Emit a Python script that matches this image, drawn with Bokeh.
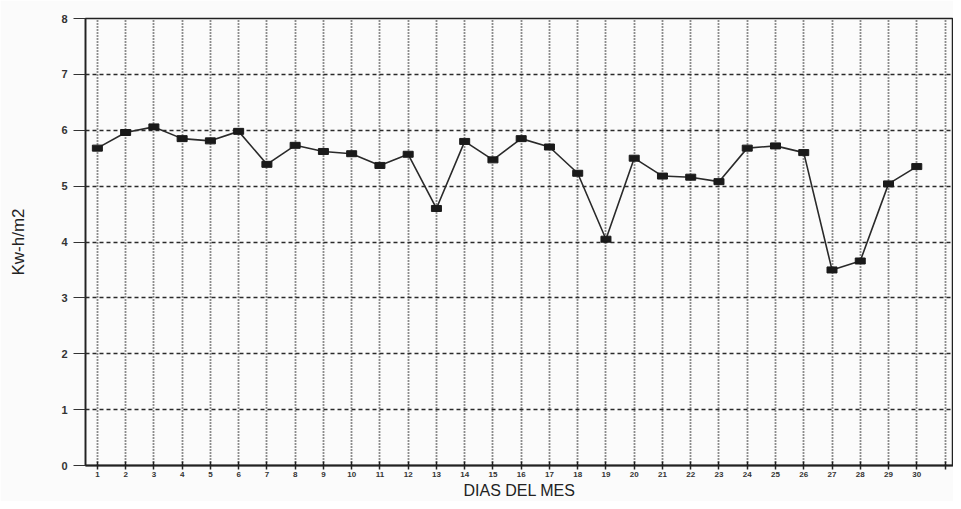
from bokeh.plotting import figure
from bokeh.models import Range1d, FixedTicker, ColumnDataSource
from bokeh.embed import file_html
from bokeh.resources import INLINE

days = list(range(1, 31))
kwh = [5.68, 5.96, 6.06, 5.85, 5.81, 5.98, 5.39, 5.73, 5.62, 5.58,
       5.37, 5.57, 4.60, 5.80, 5.47, 5.85, 5.70, 5.23, 4.05, 5.50,
       5.18, 5.16, 5.08, 5.68, 5.72, 5.60, 3.50, 3.66, 5.04, 5.35]
y_ticks = [0, 1, 2, 3, 4, 5, 6, 7, 8]
x_ticks = list(range(1, 32))
x_tick_labels = {d: str(d) for d in days}
x_tick_labels[31] = ""
x_title = "DIAS DEL MES"
y_title = "Kw-h/m2"

src = ColumnDataSource(data=dict(x=days, y=kwh))

p = figure(width=953, height=501, output_backend="svg", toolbar_location=None,
           x_range=Range1d(0.58, 31.3), y_range=Range1d(0, 8),
           min_border_left=85, min_border_right=0, min_border_top=18,
           min_border_bottom=30)
p.background_fill_color = "#fbfbfb"
p.border_fill_color = "#fbfbfb"
p.outline_line_color = "#222222"
p.outline_line_width = 1.5

p.line("x", "y", source=src, line_color="#2a2a2a", line_width=1.6)
p.rect("x", "y", width=10, height=6, width_units="screen", height_units="screen",
       source=src, fill_color="#1a1a1a", line_color="#1a1a1a")

# grids
p.xgrid.ticker = FixedTicker(ticks=x_ticks)
p.ygrid.ticker = FixedTicker(ticks=y_ticks)
p.xgrid.grid_line_color = "#1e1e1e"
p.xgrid.grid_line_dash = "1 2"
p.xgrid.grid_line_width = 1.8
p.ygrid.grid_line_color = "#2a2a2a"
p.ygrid.grid_line_dash = "4 3"
p.ygrid.grid_line_width = 1.4

# y axis
p.yaxis.ticker = FixedTicker(ticks=y_ticks)
p.yaxis.axis_line_color = "#222222"
p.yaxis.axis_line_width = 1.6
p.yaxis.major_tick_out = 12
p.yaxis.major_tick_in = 0
p.yaxis.major_tick_line_color = "#333333"
p.yaxis.minor_tick_line_color = None
p.yaxis.major_label_text_font = "Liberation Sans"
p.yaxis.major_label_text_font_style = "bold"
p.yaxis.major_label_text_font_size = "11px"
p.yaxis.major_label_text_color = "#333333"
p.yaxis.major_label_standoff = 6
p.yaxis.axis_label = y_title
p.yaxis.axis_label_text_font = "Liberation Sans"
p.yaxis.axis_label_text_font_style = "normal"
p.yaxis.axis_label_text_font_size = "17px"
p.yaxis.axis_label_text_color = "#222222"
p.yaxis.axis_label_standoff = 30

# x axis
p.xaxis.ticker = FixedTicker(ticks=x_ticks)
p.xaxis.major_label_overrides = x_tick_labels
p.xaxis.axis_line_color = "#222222"
p.xaxis.axis_line_width = 1.8
p.xaxis.major_tick_out = 4
p.xaxis.major_tick_in = 4
p.xaxis.major_tick_line_width = 1.5
p.xaxis.major_tick_line_color = "#222222"
p.xaxis.minor_tick_line_color = None
p.xaxis.major_label_text_font = "Liberation Sans"
p.xaxis.major_label_text_font_style = "bold"
p.xaxis.major_label_text_font_size = "8px"
p.xaxis.major_label_text_color = "#333333"
p.xaxis.major_label_standoff = 2
p.xaxis.axis_label = x_title
p.xaxis.axis_label_text_font = "Liberation Sans"
p.xaxis.axis_label_text_font_style = "normal"
p.xaxis.axis_label_text_font_size = "16px"
p.xaxis.axis_label_text_color = "#222222"
p.xaxis.axis_label_standoff = 2

open("out.html", "w").write(file_html(p, INLINE))
